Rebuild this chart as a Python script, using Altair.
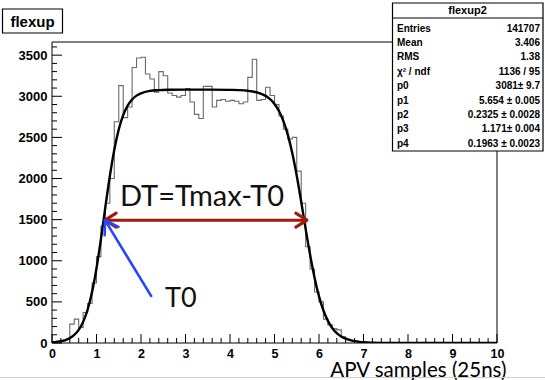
import altair as alt
import pandas as pd

# ---------------- data ----------------
bin_width = 0.1
counts = [12, 20, 25, 40, 230, 290, 190, 370, 480, 730,
          1050, 1420, 1700, 2000, 2690, 3130, 2740, 2870, 3350, 3465,
          3475, 3270, 3210, 3050, 3300, 3250, 3040, 3010, 2990, 3010,
          3095, 2930, 2780, 2730, 3120, 3120, 2870, 2950, 2960, 2940,
          2950, 2940, 2910, 2930, 3230, 3450, 2950, 2960, 3110, 3010,
          2900, 2760, 2600, 2480, 2500, 2090, 1700, 1170, 900, 620,
          500, 290, 220, 175, 160, 75, 45, 30, 20, 12,
          8, 5, 3, 2, 1, 1, 0, 0, 0, 0,
          0, 0, 0, 0, 0, 0, 0, 0, 0, 0,
          0, 0, 0, 0, 0, 0, 0, 0, 0, 0]

fit_x = [0.0, 0.1, 0.2, 0.3, 0.4, 0.5, 0.6, 0.7, 0.8, 0.9,
         1.0, 1.1, 1.2, 1.3, 1.4, 1.5, 1.6, 1.7, 1.8, 1.9,
         2.0, 2.2, 2.4, 2.6, 3.0, 3.5, 4.0, 4.2, 4.4, 4.6,
         4.8, 4.9, 5.0, 5.1, 5.2, 5.3, 5.4, 5.5, 5.6, 5.7,
         5.8, 5.9, 6.0, 6.1, 6.2, 6.3, 6.4, 6.5, 6.6, 6.7,
         6.8, 6.9, 7.0, 7.2, 7.4, 7.6, 8.0, 9.0, 10.0]
fit_y = [8, 13, 22, 36, 60, 98, 159, 257, 404, 619,
         909, 1265, 1655, 2030, 2350, 2596, 2770, 2886, 2961, 3008,
         3036, 3065, 3075, 3079, 3081, 3081, 3078, 3075, 3067, 3048,
         3005, 2965, 2907, 2821, 2698, 2530, 2307, 2033, 1718, 1388,
         1072, 794, 567, 395, 269, 180, 120, 79, 52, 34,
         22, 14, 9, 4, 1.7, 0.7, 0.1, 0, 0]

x_major = [0, 1, 2, 3, 4, 5, 6, 7, 8, 9, 10]
x_minor = [round(i * 0.2, 1) for i in range(51) if i % 5 != 0]
y_major = [0, 500, 1000, 1500, 2000, 2500, 3000, 3500]
y_minor = [v for v in range(100, 3700, 100) if v % 500 != 0]

stat_labels = ["Entries", "Mean", "RMS", "\u03c7\u00b2 / ndf", "p0", "p1", "p2", "p3", "p4"]
stat_values = ["141707", "3.406", "1.38", "1136 / 95", "3081\u00b1 9.7",
               "5.654 \u00b1 0.005", "0.2325 \u00b1 0.0028", "1.171\u00b1 0.004",
               "0.1963 \u00b1 0.0023"]

# annotation arrows (data coordinates)
dt_arrow_x = [1.19, 5.73]
dt_arrow_y = 1494
t0_arrow_tail = (2.24, 561)
t0_arrow_tip = (1.19, 1494)

# ---------------- layout ----------------
W, H = 445, 301
XMAX, YMAX = 10, 3660
FONT = "Liberation Sans"
ANNOT_FONT = "Lato"
RED = "#a11a10"
BLUE = "#2446ff"

xs = alt.Scale(domain=[0, XMAX], nice=False, zero=False)
ys = alt.Scale(domain=[0, YMAX], nice=False, zero=False)

xaxis = alt.Axis(values=x_major, format="d", ticks=False, tickSize=0, domain=False, grid=False,
                 labelFont=FONT, labelFontWeight="bold", labelFontSize=12.5, labelColor="black",
                 labelPadding=4, labelFlush=False, labelOverlap=False,
                 title="APV samples (25ns)", titleFont=ANNOT_FONT, titleFontSize=20.5,
                 titleFontWeight="normal", titleColor="black", titleX=454, titleY=33,
                 titleAlign="right", titleBaseline="alphabetic")
yaxis = alt.Axis(values=y_major, format="d", ticks=False, tickSize=0, domain=False, grid=False,
                 labelFont=FONT, labelFontWeight="bold", labelFontSize=13, labelColor="black",
                 labelPadding=5, labelOverlap=False, title=None)


def X(f):
    return alt.X(f, type="quantitative", scale=xs, axis=xaxis)


def Y(f):
    return alt.Y(f, type="quantitative", scale=ys, axis=yaxis)


one = pd.DataFrame({"a": [0]})

hist_df = pd.DataFrame({
    "x": [round(i * bin_width, 1) for i in range(len(counts))] + [XMAX],
    "y": counts + [counts[-1]],
})
fit_df = pd.DataFrame({"x": fit_x, "y": fit_y})

hist = alt.Chart(hist_df).mark_line(interpolate="step-after", color="#6a6a6a",
                                    strokeWidth=1.1, clip=True).encode(x=X("x"), y=Y("y"))
fit = alt.Chart(fit_df).mark_line(interpolate="monotone", color="black",
                                  strokeWidth=2.4, clip=True).encode(x=X("x"), y=Y("y"))

frame = alt.Chart(one).mark_rect(fillOpacity=0, stroke="black", strokeWidth=1).encode(
    x=alt.value(0), x2=alt.value(W), y=alt.value(0), y2=alt.value(H))

ymaj = alt.Chart(pd.DataFrame({"y": y_major})).mark_rule(color="black", strokeWidth=1).encode(
    y=Y("y"), x=alt.value(0), x2=alt.value(10))
ymin = alt.Chart(pd.DataFrame({"y": y_minor})).mark_rule(color="black", strokeWidth=1).encode(
    y=Y("y"), x=alt.value(0), x2=alt.value(5))
xmaj = alt.Chart(pd.DataFrame({"x": x_major})).mark_rule(color="black", strokeWidth=1).encode(
    x=X("x"), y=alt.value(H), y2=alt.value(H - 9))
xmin = alt.Chart(pd.DataFrame({"x": x_minor})).mark_rule(color="black", strokeWidth=1).encode(
    x=X("x"), y=alt.value(H), y2=alt.value(H - 5))

# red double arrow
dt_df = pd.DataFrame({"x": [dt_arrow_x[0]], "x2": [dt_arrow_x[1]], "y": [dt_arrow_y]})
dt_line = alt.Chart(dt_df).mark_rule(color=RED, strokeWidth=3).encode(
    x=X("x"), x2="x2", y=Y("y"))
dt_left = alt.Chart(pd.DataFrame({"x": [dt_arrow_x[0]], "y": [dt_arrow_y]})).mark_point(
    shape="M1.6,-1L0,0L1.6,1", filled=False, color=RED, strokeWidth=3, size=196,
    opacity=1, strokeJoin="round", strokeCap="round").encode(x=X("x"), y=Y("y"))
dt_right = alt.Chart(pd.DataFrame({"x": [dt_arrow_x[1]], "y": [dt_arrow_y]})).mark_point(
    shape="M-1.6,-1L0,0L-1.6,1", filled=False, color=RED, strokeWidth=3, size=196,
    opacity=1, strokeJoin="round", strokeCap="round").encode(x=X("x"), y=Y("y"))

# blue arrow
t0_df = pd.DataFrame({"x": [t0_arrow_tail[0]], "x2": [t0_arrow_tip[0]],
                      "y": [t0_arrow_tail[1]], "y2": [t0_arrow_tip[1]]})
t0_line = alt.Chart(t0_df).mark_rule(color=BLUE, strokeWidth=2.6).encode(
    x=X("x"), x2="x2", y=Y("y"), y2="y2")
t0_head = alt.Chart(pd.DataFrame({"x": [t0_arrow_tip[0]], "y": [t0_arrow_tip[1]]})).mark_point(
    shape="M1.6,-1L0,0L1.6,1", filled=False, color=BLUE, strokeWidth=2.6, size=256, angle=59,
    opacity=1, strokeJoin="round", strokeCap="round").encode(x=X("x"), y=Y("y"))

dt_text = alt.Chart(one).mark_text(font=ANNOT_FONT, fontSize=29, align="left",
                                   baseline="alphabetic", color="#111111").encode(
    x=alt.value(68), y=alt.value(164), text=alt.value("DT=Tmax-T0"))
t0_text = alt.Chart(one).mark_text(font=ANNOT_FONT, fontSize=27, align="left",
                                   baseline="alphabetic", color="#111111").encode(
    x=alt.value(113), y=alt.value(265), text=alt.value("T0"))

# title box
title_box = alt.Chart(one).mark_rect(fill="white", stroke="black", strokeWidth=1.2).encode(
    x=alt.value(-49.5), x2=alt.value(10.5), y=alt.value(-33), y2=alt.value(-9))
title_txt = alt.Chart(one).mark_text(font=FONT, fontWeight="bold", fontSize=15, align="center",
                                     baseline="alphabetic", color="black").encode(
    x=alt.value(-19.5), y=alt.value(-15.5), text=alt.value("flexup"))

# stats box
stats_box = alt.Chart(one).mark_rect(fill="white", stroke="black", strokeWidth=1.2).encode(
    x=alt.value(340.5), x2=alt.value(491), y=alt.value(-39), y2=alt.value(109))
stats_sep = alt.Chart(one).mark_rule(color="black", strokeWidth=1).encode(
    x=alt.value(340.5), x2=alt.value(491), y=alt.value(-24), y2=alt.value(-24))
stats_head = alt.Chart(one).mark_text(font=FONT, fontWeight="bold", fontSize=11, align="center",
                                      baseline="alphabetic", color="black").encode(
    x=alt.value(415.5), y=alt.value(-28), text=alt.value("flexup2"))
stats_lab = alt.Chart(one).mark_text(font=FONT, fontWeight="bold", fontSize=10, align="left",
                                     baseline="alphabetic", lineHeight=14.4, color="black").encode(
    x=alt.value(345), y=alt.value(-10.5), text=alt.value(stat_labels))
stats_val = alt.Chart(one).mark_text(font=FONT, fontWeight="bold", fontSize=10, align="right",
                                     baseline="alphabetic", lineHeight=14.4, color="black").encode(
    x=alt.value(488), y=alt.value(-10.5), text=alt.value(stat_values))

bottom_line = alt.Chart(one).mark_rule(color="#cfcfcf", strokeWidth=1).encode(
    x=alt.value(-52), x2=alt.value(493), y=alt.value(335.5), y2=alt.value(335.5))

chart = alt.layer(
    hist, fit, frame, ymaj, ymin, xmaj, xmin,
    dt_line, dt_left, dt_right, t0_line, t0_head, dt_text, t0_text,
    title_box, title_txt, stats_box, stats_sep, stats_head, stats_lab, stats_val, bottom_line,
).properties(
    width=W, height=H,
    padding={"left": 52, "top": 42, "right": 48, "bottom": 37},
    autosize=alt.AutoSizeParams(type="none"),
    background="white",
).configure_view(stroke=None)

chart.save("out.html", embed_options={"renderer": "svg", "actions": False})
